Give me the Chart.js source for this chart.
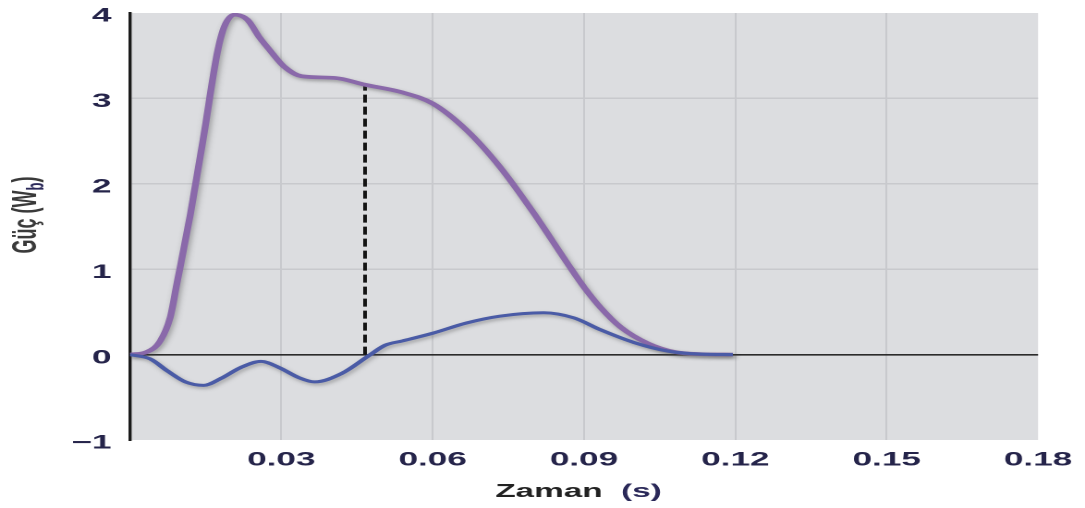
<!DOCTYPE html>
<html>
<head>
<meta charset="utf-8">
<script src="https://cdn.jsdelivr.net/npm/chart.js@4/dist/chart.umd.min.js"></script>
<style>
  html, body { margin: 0; padding: 0; background: #ffffff; overflow: hidden; }
  #wrap { position: relative; width: 1085px; height: 508px; overflow: hidden; }
  #c { position: absolute; left: 0; top: 0; transform-origin: 0 0; }
</style>
</head>
<body>
<div id="wrap"><canvas id="c" width="587" height="508"></canvas></div>
<script>
// Upper (purple) power curve, W_b against time in seconds
const upperTime  = [0, 0.0033, 0.006, 0.008, 0.0093, 0.012, 0.0147, 0.0173, 0.0187, 0.0207, 0.0233, 0.0256, 0.0275, 0.0306, 0.034, 0.0406, 0.0466, 0.054, 0.060, 0.0667, 0.0733, 0.08, 0.0867, 0.09, 0.0933, 0.0973, 0.1027, 0.108, 0.1133, 0.1195];
const upperPower = [0, 0.03, 0.16, 0.44, 0.83, 1.65, 2.59, 3.53, 3.84, 3.98, 3.92, 3.72, 3.58, 3.37, 3.26, 3.24, 3.16, 3.07, 2.94, 2.63, 2.2, 1.66, 1.07, 0.79, 0.55, 0.32, 0.13, 0.03, 0.005, 0];

// Lower (blue) power curve
const lowerTime  = [0, 0.004, 0.0074, 0.011, 0.0146, 0.018, 0.022, 0.026, 0.0295, 0.0335, 0.0366, 0.042, 0.0474, 0.0506, 0.054, 0.060, 0.0667, 0.0733, 0.082, 0.088, 0.0933, 0.1, 0.1067, 0.1133, 0.1195];
const lowerPower = [0, -0.05, -0.19, -0.32, -0.36, -0.28, -0.15, -0.08, -0.15, -0.27, -0.32, -0.22, -0.01, 0.11, 0.16, 0.25, 0.37, 0.45, 0.49, 0.43, 0.29, 0.14, 0.04, 0.005, 0];

// Dashed marker from the time axis up to the upper curve
const markerTime  = [0.0466, 0.0466];
const markerPower = [0, 3.16];

// Axis ticks and titles
const xTickValues = [0.03, 0.06, 0.09, 0.12, 0.15, 0.18];
const yTickValues = [-1, 0, 1, 2, 3, 4];
const xTitleParts = ['Zaman', '(s)'];
const yTitleParts = ['Güç (W', 'b', ')'];

const toPoints = (xs, ys) => xs.map((x, i) => ({ x: x, y: ys[i] }));

const canvas = document.getElementById('c');
const STRETCH = 1085 / canvas.width;
canvas.style.transform = 'scaleX(' + STRETCH + ')';

const FONT = '"Liberation Sans", Arial, Helvetica, sans-serif';
const TICK_COLOR = '#25244a';
const GRID_COLOR = '#c8c9cd';

// Grey plotting field behind everything
const plotField = {
  id: 'plotField',
  beforeDraw(chart) {
    const { ctx, chartArea: a } = chart;
    ctx.save();
    ctx.fillStyle = '#dcdde0';
    ctx.fillRect(a.left, a.top, a.right - a.left, a.bottom - a.top);
    ctx.restore();
  }
};

// Soft drop shadow under the curves
const curveShadow = {
  id: 'curveShadow',
  beforeDatasetDraw(chart, args) {
    const ds = chart.data.datasets[args.index];
    const ctx = chart.ctx;
    ctx.save();
    if (ds.shadowColor) {
      const r = chart.currentDevicePixelRatio || 1;
      ctx.shadowColor = ds.shadowColor;
      ctx.shadowBlur = 3 * r;
      ctx.shadowOffsetX = 1 * r;
      ctx.shadowOffsetY = 2 * r;
    }
  },
  afterDatasetDraw(chart) {
    chart.ctx.restore();
  }
};

// Axis titles (the y title carries a subscript)
const axisTitles = {
  id: 'axisTitles',
  afterDraw(chart) {
    const { ctx, chartArea: a } = chart;
    ctx.save();

    ctx.font = 'bold 18px ' + FONT;
    ctx.textBaseline = 'middle';
    ctx.textAlign = 'left';
    const w1 = ctx.measureText(xTitleParts[0]).width;
    const gap = ctx.measureText('  ').width;
    const w2 = ctx.measureText(xTitleParts[1]).width;
    const x0 = (a.left + a.right) / 2 - (w1 + gap + w2) / 2 - 3;
    ctx.fillStyle = '#222222';
    ctx.fillText(xTitleParts[0], x0, 492);
    ctx.fillStyle = '#2a2858';
    ctx.fillText(xTitleParts[1], x0 + w1 + gap, 492);

    ctx.translate(19.5, 215);
    ctx.rotate(-Math.PI / 2);
    ctx.textBaseline = 'alphabetic';
    const mainFont = 'bold 18px ' + FONT;
    const subFont = 'bold 13px ' + FONT;
    ctx.font = mainFont;
    const m0 = ctx.measureText(yTitleParts[0]).width;
    const m2 = ctx.measureText(yTitleParts[2]).width;
    ctx.font = subFont;
    const m1 = ctx.measureText(yTitleParts[1]).width;
    let s = -(m0 + m1 + m2) / 2;
    ctx.font = mainFont;
    ctx.fillStyle = '#3a3a3a';
    ctx.fillText(yTitleParts[0], s, 0);
    s += m0;
    ctx.font = subFont;
    ctx.fillStyle = '#2a2858';
    ctx.fillText(yTitleParts[1], s, 4);
    s += m1;
    ctx.font = mainFont;
    ctx.fillStyle = '#3a3a3a';
    ctx.fillText(yTitleParts[2], s, 0);

    ctx.restore();
  }
};

new Chart(canvas, {
  type: 'line',
  data: {
    datasets: [
      {
        data: toPoints(lowerTime, lowerPower),
        borderColor: '#4a5ba6',
        borderWidth: 3,
        shadowColor: 'rgba(70,70,70,0.4)',
        cubicInterpolationMode: 'monotone',
        pointRadius: 0,
        fill: false,
        order: 0
      },
      {
        data: toPoints(upperTime, upperPower),
        borderColor: '#8a69aa',
        borderWidth: 3.7,
        shadowColor: 'rgba(70,70,70,0.45)',
        cubicInterpolationMode: 'monotone',
        pointRadius: 0,
        fill: false,
        order: 1
      },
      {
        data: toPoints(markerTime, markerPower),
        borderColor: '#141414',
        borderWidth: 2,
        borderDash: [8, 4],
        tension: 0,
        pointRadius: 0,
        fill: false,
        order: 2
      }
    ]
  },
  options: {
    responsive: false,
    devicePixelRatio: 2,
    animation: false,
    events: [],
    layout: { autoPadding: false, padding: { top: 13, right: 25.4, bottom: 0, left: 0 } },
    plugins: { legend: { display: false }, tooltip: { enabled: false } },
    scales: {
      x: {
        type: 'linear',
        min: 0,
        max: 0.18,
        afterBuildTicks: (scale) => { scale.ticks = xTickValues.map(v => ({ value: v })); },
        afterFit: (scale) => {
          scale.height = 68;
          scale.paddingLeft = 0;
          scale.paddingRight = 0;
        },
        border: { display: false },
        grid: {
          drawTicks: false,
          color: (c) => (c.tick && c.tick.value === 0.18) ? 'rgba(0,0,0,0)' : GRID_COLOR,
          lineWidth: 1
        },
        ticks: {
          padding: 9,
          color: TICK_COLOR,
          font: { family: FONT, size: 19, weight: 'bold' },
          maxRotation: 0,
          autoSkip: false,
          callback: (v) => Number(v).toFixed(2)
        }
      },
      y: {
        type: 'linear',
        min: -1,
        max: 4,
        afterBuildTicks: (scale) => { scale.ticks = yTickValues.map(v => ({ value: v })); },
        afterFit: (scale) => {
          scale.width = 70.3;
          scale.paddingTop = 0;
          scale.paddingBottom = 0;
        },
        border: { display: true, color: '#1a1a1a', width: 1.7 },
        grid: {
          drawTicks: false,
          color: (c) => {
            const v = c.tick ? c.tick.value : null;
            if (v === 0) return '#2b2b2b';
            if (v === 4 || v === -1) return 'rgba(0,0,0,0)';
            return GRID_COLOR;
          },
          lineWidth: (c) => (c.tick && c.tick.value === 0) ? 1.6 : 1.5
        },
        ticks: {
          padding: 10,
          labelOffset: 3.5,
          color: TICK_COLOR,
          font: { family: FONT, size: 19, weight: 'bold' },
          callback: (v) => v < 0 ? '\u2212' + Math.abs(v) : String(v)
        }
      }
    }
  },
  plugins: [plotField, curveShadow, axisTitles]
});
</script>
</body>
</html>
